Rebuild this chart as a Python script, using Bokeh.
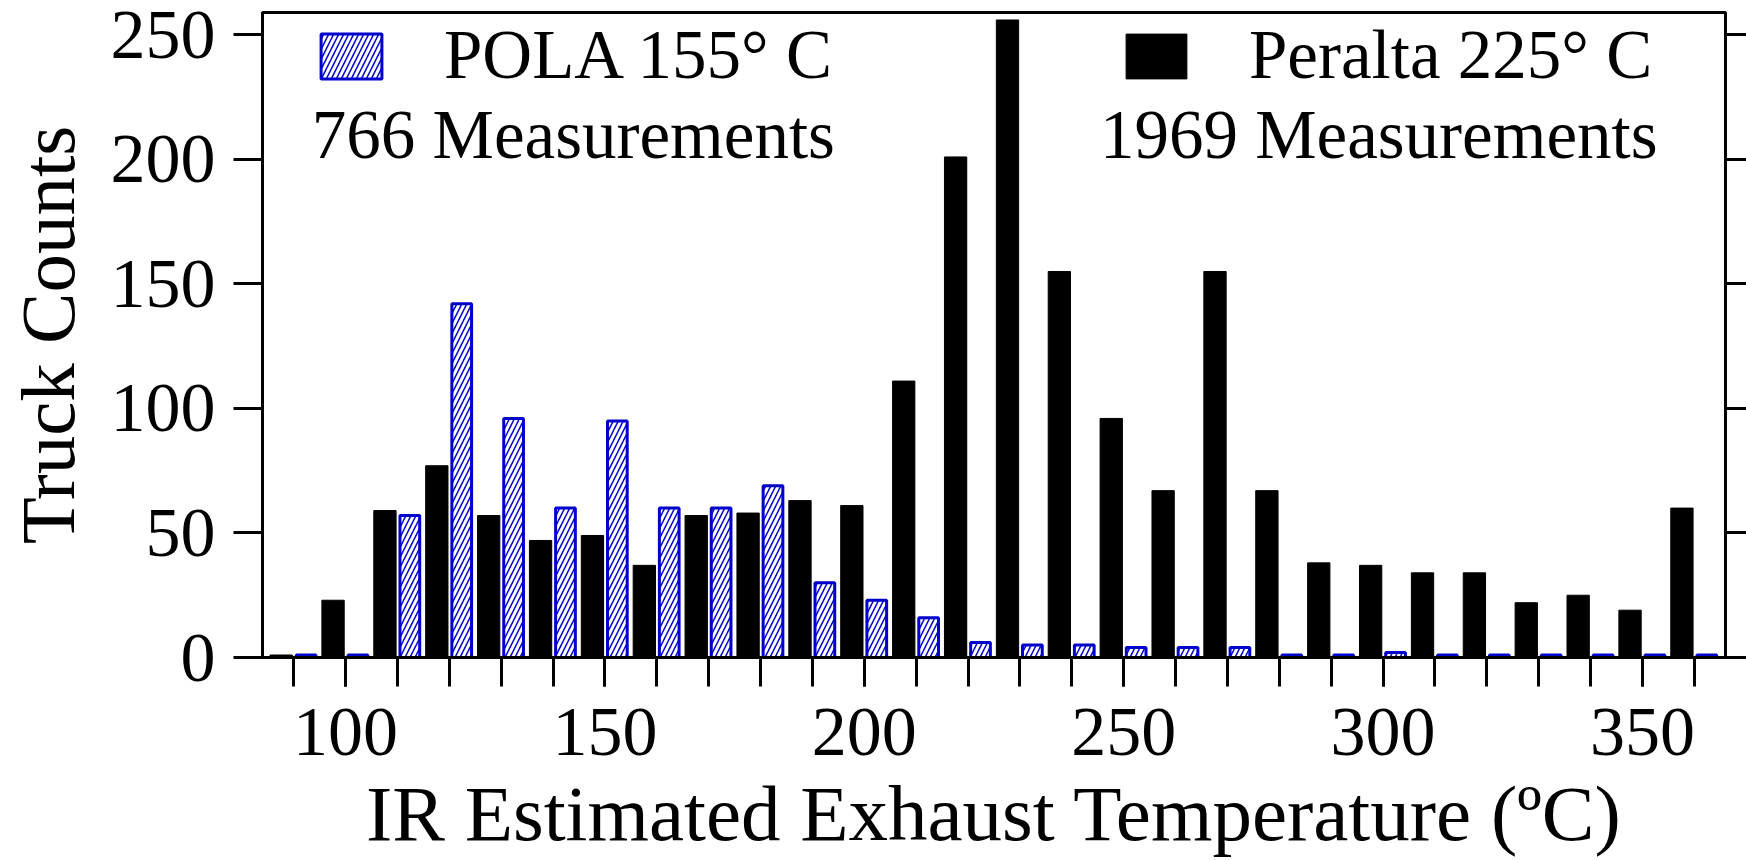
from bokeh.plotting import figure
from bokeh.models import (FixedTicker, LinearAxis, Legend, LegendItem, Label,
                          Range1d, ColumnDataSource)
from bokeh.transform import dodge
from bokeh.embed import file_html
from bokeh.resources import INLINE

# ---------------- data ----------------
bins = [90, 100, 110, 120, 130, 140, 150, 160, 170, 180, 190, 200, 210, 220,
        230, 240, 250, 260, 270, 280, 290, 300, 310, 320, 330, 340, 350, 360]
peralta = [1, 23, 59, 77, 57, 47, 49, 37, 57, 58, 63, 61, 111, 201,
           256, 155, 96, 67, 155, 67, 38, 37, 34, 34, 22, 25, 19, 60]
pola = [1, 1, 57, 142, 96, 60, 95, 60, 60, 69, 30, 23, 16, 6,
        5, 5, 4, 4, 4, 1, 1, 2, 1, 1, 1, 1, 1, 1]
x_label_ticks = [100, 150, 200, 250, 300, 350]
y_ticks = [0, 50, 100, 150, 200, 250]

pola_name = "POLA 155° C"
pola_count = "766 Measurements"
peralta_name = "Peralta 225° C"
peralta_count = "1969 Measurements"
x_title = "IR Estimated Exhaust Temperature (ºC)"
y_title = "Truck Counts"

FONT = "Liberation Serif"
BLUE = "#0000CC"

src = ColumnDataSource(dict(bins=bins, peralta=peralta, pola=pola))

p = figure(width=1746, height=860, output_backend="svg", toolbar_location=None,
           x_range=Range1d(84, 366), y_range=Range1d(0, 259),
           min_border_left=262, min_border_top=12, min_border_right=21,
           min_border_bottom=203)
p.xgrid.visible = False
p.ygrid.visible = False
p.outline_line_color = "black"
p.outline_line_width = 3
p.outline_line_alpha = 1.0
p.background_fill_color = "white"
p.border_fill_color = "white"

r_black = p.vbar(x=dodge("bins", -2.4), top="peralta", bottom=0, width=4.3,
                 source=src, fill_color="black", line_color="black",
                 line_width=1)
r_blue = p.vbar(x=dodge("bins", 2.4), top="pola", bottom=0, width=3.8,
                source=src, fill_color="white", line_color=BLUE, line_width=3,
                hatch_pattern="/", hatch_color=BLUE, hatch_scale=10,
                hatch_weight=1.5)

# x axis
xa = p.xaxis[0]
xa.ticker = FixedTicker(ticks=x_label_ticks, minor_ticks=bins)
xa.axis_line_width = 3
xa.major_tick_out = 29
xa.major_tick_in = 0
xa.minor_tick_out = 29
xa.minor_tick_in = 0
xa.major_tick_line_width = 3
xa.minor_tick_line_width = 3
xa.minor_tick_line_color = "black"
xa.major_label_text_font = FONT
xa.major_label_text_font_size = "70px"
xa.major_label_text_color = "black"
xa.major_label_standoff = 22
xa.axis_label = x_title
xa.axis_label_text_font = FONT
xa.axis_label_text_font_size = "79px"
xa.axis_label_text_font_style = "normal"
xa.axis_label_text_color = "black"
xa.axis_label_standoff = 12

# left y axis
ya = p.yaxis[0]
ya.ticker = FixedTicker(ticks=y_ticks, minor_ticks=[])
ya.axis_line_width = 3
ya.major_tick_out = 29
ya.major_tick_in = 0
ya.minor_tick_out = 0
ya.minor_tick_in = 0
ya.major_tick_line_width = 3
ya.major_label_text_font = FONT
ya.major_label_text_font_size = "70px"
ya.major_label_text_color = "black"
ya.major_label_standoff = 18
ya.axis_label = y_title
ya.axis_label_text_font = FONT
ya.axis_label_text_font_size = "77px"
ya.axis_label_text_font_style = "normal"
ya.axis_label_text_color = "black"
ya.axis_label_standoff = 17

# right y axis (ticks only, labels blanked)
ra = LinearAxis(ticker=FixedTicker(ticks=y_ticks, minor_ticks=[]),
                axis_line_width=3, major_tick_out=21, major_tick_in=0,
                minor_tick_out=0, minor_tick_in=0, major_tick_line_width=3,
                major_label_overrides={t: "" for t in y_ticks},
                major_label_standoff=0)
p.add_layout(ra, "right")

# legends
common = dict(glyph_width=76, glyph_height=56, label_standoff=55, padding=0,
              margin=0, spacing=0, border_line_alpha=0,
              background_fill_alpha=0, label_text_font=FONT,
              label_text_font_size="69px", label_text_color="black")
leg1 = Legend(items=[LegendItem(label=pola_name, renderers=[r_blue])],
              location=(51, 562), **common)
leg2 = Legend(items=[LegendItem(label=peralta_name, renderers=[r_black])],
              location=(856, 562), **common)
p.add_layout(leg1)
p.add_layout(leg2)

p.add_layout(Label(x=93.5, y=210.0, text=pola_count, text_font=FONT,
                   text_font_size="69px", text_align="left",
                   text_baseline="alphabetic", text_color="black"))
p.add_layout(Label(x=352.9, y=210.0, text=peralta_count, text_font=FONT,
                   text_font_size="69px", text_align="right",
                   text_baseline="alphabetic", text_color="black"))

open("out.html", "w").write(file_html(p, INLINE))
